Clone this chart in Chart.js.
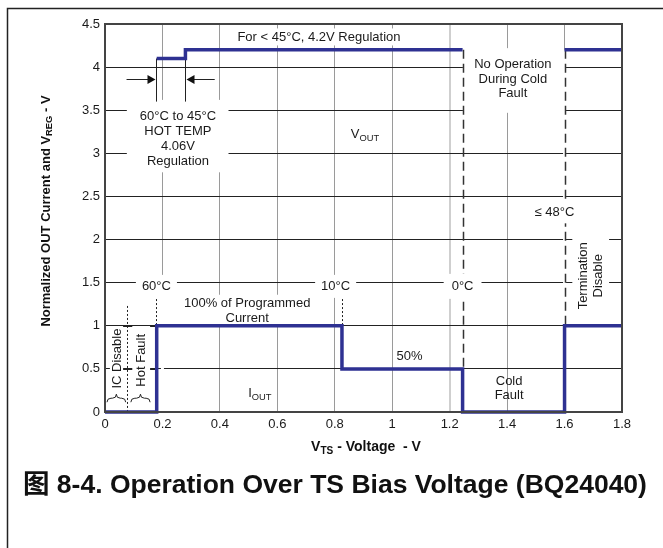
<!DOCTYPE html>
<html>
<head>
<meta charset="utf-8">
<script src="https://cdn.jsdelivr.net/npm/chart.js@4.4.1/dist/chart.umd.min.js"></script>
<style>
  html,body{margin:0;padding:0;background:#fff;}
  canvas{display:block;}
</style>
</head>
<body>
<canvas id="c" width="663" height="548"></canvas>
<script>
// ---- data ----
const xTicks = [0, 0.2, 0.4, 0.6, 0.8, 1.0, 1.2, 1.4, 1.6, 1.8];
const xTickLabels = ["0", "0.2", "0.4", "0.6", "0.8", "1", "1.2", "1.4", "1.6", "1.8"];
const yTicks = [0, 0.5, 1, 1.5, 2, 2.5, 3, 3.5, 4, 4.5];
const yTickLabels = ["0", "0.5", "1", "1.5", "2", "2.5", "3", "3.5", "4", "4.5"];

// I_OUT (normalized current), value held until next breakpoint
const ioutX = [0, 0.18, 0.825, 1.245, 1.6, 1.8];
const ioutY = [0, 1, 0.5, 0, 1, 1];

// V_REG (regulation voltage), null = no operation during cold fault
const vregX = [0.18, 0.28, 1.245, 1.42, 1.6, 1.8];
const vregY = [4.1, 4.2, 4.2, null, 4.2, 4.2];

const FONT = "'Liberation Sans', Arial, Helvetica, sans-serif";
const BLUE = "#2e3192";
const TXT = "#1a1a1a";
const AF = 13; // annotation font size

function richWidth(ctx, parts, size){
  let w = 0;
  for (const p of parts){
    ctx.font = (p.bold?"bold ":"") + (p.sub ? size*0.72 : size) + "px " + FONT;
    w += ctx.measureText(p.t).width;
  }
  return w;
}
function drawRich(ctx, parts, x, y, size, align){
  const w = richWidth(ctx, parts, size);
  let cx = align === "center" ? x - w/2 : (align === "right" ? x - w : x);
  ctx.textAlign = "left";
  ctx.textBaseline = "middle";
  for (const p of parts){
    ctx.font = (p.bold?"bold ":"") + (p.sub ? size*0.72 : size) + "px " + FONT;
    ctx.fillText(p.t, cx, p.sub ? y + size*0.3 : y);
    cx += ctx.measureText(p.t).width;
  }
}

const annot = {
  id: "annot",
  beforeDatasetsDraw(chart){
    const {ctx, scales:{x, y}} = chart;
    const X = v => x.getPixelForValue(v), Y = v => y.getPixelForValue(v);
    ctx.save();
    ctx.fillStyle = "#fff";
    const wbox = (x0, x1, y0, y1) => ctx.fillRect(X(x0), Y(y0), X(x1)-X(x0), Y(y1)-Y(y0));

    // white cover boxes behind annotation texts
    wbox(0.076, 0.43, 3.62, 2.78);     // hot temp regulation
    wbox(1.246, 1.597, 4.22, 3.47);    // no operation
    wbox(1.627, 1.755, 2.15, 1.14);    // termination disable
    wbox(0.017, 0.063, 0.98, 0.24);    // IC disable
    wbox(0.095, 0.157, 0.98, 0.24);    // hot fault
    wbox(0.27, 0.725, 1.36, 1.01);     // 100% programmed
    // hide x=0.2 / x=1.6 grid where not drawn in the reference
    ctx.fillRect(X(0.2)-1.5, Y(1.46), 3, Y(0)-Y(1.46)-1);
    ctx.fillRect(X(1.6)-1.5, Y(4.2), 3, Y(1)-Y(4.2));

    // text label with white background
    const label = (t, vx, vy, size, padx, pady) => {
      ctx.font = size + "px " + FONT;
      const w = ctx.measureText(t).width;
      ctx.fillStyle = "#fff";
      ctx.fillRect(X(vx)-w/2-padx, Y(vy)-size/2-pady, w+2*padx, size+2*pady);
      ctx.fillStyle = TXT;
      ctx.textAlign = "center"; ctx.textBaseline = "middle";
      ctx.fillText(t, X(vx), Y(vy));
    };

    // dashed vertical boundary lines
    ctx.strokeStyle = "#333";
    ctx.lineWidth = 1.5;
    ctx.setLineDash([9, 5]);
    ctx.beginPath();
    ctx.moveTo(Math.round(X(1.245))+0.5, Y(4.2)); ctx.lineTo(Math.round(X(1.245))+0.5, Y(0.5));
    ctx.moveTo(Math.round(X(1.6))+0.5, Y(4.2)); ctx.lineTo(Math.round(X(1.6))+0.5, Y(1));
    ctx.stroke();
    // dotted vertical lines
    ctx.lineWidth = 1;
    ctx.strokeStyle = "#222";
    ctx.setLineDash([2, 2]);
    ctx.beginPath();
    ctx.moveTo(Math.round(X(0.078))+0.5, Y(1.23)); ctx.lineTo(Math.round(X(0.078))+0.5, Y(0));
    ctx.moveTo(Math.round(X(0.178))+0.5, Y(1.31)); ctx.lineTo(Math.round(X(0.178))+0.5, Y(1));
    ctx.moveTo(Math.round(X(0.825))+0.5, Y(1.31)); ctx.lineTo(Math.round(X(0.825))+0.5, Y(1));
    ctx.stroke();
    ctx.setLineDash([]);

    // small tick crossings on the IC-disable dotted line
    ctx.strokeStyle = "#222";
    ctx.beginPath();
    [1, 0.5].forEach(v => {
      ctx.moveTo(X(0.063), Math.round(Y(v))+0.5); ctx.lineTo(X(0.095), Math.round(Y(v))+0.5);
      ctx.moveTo(X(0.157), Math.round(Y(v))+0.5); ctx.lineTo(X(0.178), Math.round(Y(v))+0.5);
    });
    ctx.stroke();

    // temperature labels on 1.5 line
    label("60°C", 0.179, 1.457, AF, 6, 5);
    label("10°C", 0.803, 1.457, AF, 6, 5);
    label("0°C", 1.245, 1.457, AF, 8, 6);
    label("For < 45°C, 4.2V Regulation", 0.745, 4.35, AF, 3, 2);
    label("≤ 48°C", 1.565, 2.31, AF, 2, 4);

    // hot temp arrows
    ctx.strokeStyle = "#222"; ctx.fillStyle = "#111"; ctx.lineWidth = 1;
    const xa = Math.round(X(0.178))+0.5, xb = Math.round(X(0.279))+0.5;
    ctx.beginPath();
    ctx.moveTo(xa, Y(4.1)); ctx.lineTo(xa, Y(3.6));
    ctx.moveTo(xb, Y(4.2)); ctx.lineTo(xb, Y(3.6));
    const ya = Math.round(Y(3.865))+0.5;
    ctx.moveTo(X(0.075), ya); ctx.lineTo(xa-8, ya);
    ctx.moveTo(X(0.382), ya); ctx.lineTo(xb+8, ya);
    ctx.stroke();
    ctx.beginPath();
    ctx.moveTo(xa-1, ya); ctx.lineTo(xa-9, ya-4.5); ctx.lineTo(xa-9, ya+4.5); ctx.closePath();
    ctx.moveTo(xb+1, ya); ctx.lineTo(xb+9, ya-4.5); ctx.lineTo(xb+9, ya+4.5); ctx.closePath();
    ctx.fill();

    // braces
    const brace = (x0, x1, vy) => {
      const a = X(x0), b = X(x1), yy = Y(vy), m = (a+b)/2, h = 4;
      ctx.beginPath();
      ctx.moveTo(a, yy+h);
      ctx.quadraticCurveTo(a, yy, a+h, yy);
      ctx.lineTo(m-h, yy);
      ctx.quadraticCurveTo(m, yy, m, yy-h);
      ctx.quadraticCurveTo(m, yy, m+h, yy);
      ctx.lineTo(b-h, yy);
      ctx.quadraticCurveTo(b, yy, b, yy+h);
      ctx.stroke();
    };
    ctx.strokeStyle = "#222"; ctx.lineWidth = 1;
    brace(0.007, 0.072, 0.16);
    brace(0.09, 0.157, 0.16);

    // multiline texts
    ctx.fillStyle = TXT;
    ctx.textAlign = "center"; ctx.textBaseline = "middle";
    ctx.font = AF + "px " + FONT;
    const lines = (arr, vx, py0, step) => arr.forEach((t, i) => ctx.fillText(t, X(vx), py0 + i*step));
    lines(["60°C to 45°C", "HOT TEMP", "4.06V", "Regulation"], 0.254, Y(3.425), 15);
    lines(["No Operation", "During Cold", "Fault"], 1.42, Y(4.03), 14.5);
    lines(["100% of Programmed", "Current"], 0.495, Y(1.265), 15);
    lines(["Cold", "Fault"], 1.407, Y(0.355), 14.5);
    ctx.fillText("50%", X(1.06), Y(0.645));

    drawRich(ctx, [{t:"V"},{t:"OUT", sub:true}], X(0.905), Y(3.217), AF, "center");
    drawRich(ctx, [{t:"I"},{t:"OUT", sub:true}], X(0.539), Y(0.22), AF, "center");

    // rotated texts
    const rot = (arr, vx, vy, step) => {
      ctx.save();
      ctx.translate(X(vx), Y(vy));
      ctx.rotate(-Math.PI/2);
      ctx.font = AF + "px " + FONT;
      ctx.textAlign = "center"; ctx.textBaseline = "middle";
      arr.forEach((t, i) => ctx.fillText(t, 0, i*step - (arr.length-1)*step/2));
      ctx.restore();
    };
    rot(["Termination", "Disable"], 1.691, 1.58, 15);
    rot(["IC Disable"], 0.043, 0.62, 15);
    rot(["Hot Fault"], 0.127, 0.6, 15);
    ctx.restore();
  },
  afterDatasetsDraw(chart){
    const {ctx, chartArea:a} = chart;
    ctx.save();
    ctx.strokeStyle = "#444";
    ctx.lineWidth = 2;
    ctx.strokeRect(a.left, a.top, a.right - a.left, a.bottom - a.top);
    ctx.restore();
  },
  afterDraw(chart){
    const {ctx} = chart;
    ctx.save();
    // outer frame (top + left)
    ctx.strokeStyle = "#222"; ctx.lineWidth = 1.5;
    ctx.beginPath();
    ctx.moveTo(663, 8.5); ctx.lineTo(7.5, 8.5); ctx.lineTo(7.5, 548);
    ctx.stroke();
    ctx.fillStyle = "#111";
    // y title
    ctx.save();
    ctx.translate(46, 211);
    ctx.rotate(-Math.PI/2);
    drawRich(ctx, [{t:"Normalized OUT Current and V", bold:true},{t:"REG", bold:true, sub:true},{t:" - V", bold:true}], 0, 0, 13, "center");
    ctx.restore();
    // x title
    drawRich(ctx, [{t:"V", bold:true},{t:"TS", bold:true, sub:true},{t:" - Voltage  - V", bold:true}], 366, 447, 14, "center");
    // caption
    ctx.font = "bold 26.5px " + FONT + ", 'Noto Sans CJK SC'";
    ctx.textAlign = "left"; ctx.textBaseline = "alphabetic";
    ctx.fillText("图 8-4. Operation Over TS Bias Voltage (BQ24040)", 23, 493);
    ctx.restore();
  }
};

const tickFont = {family: FONT, size: 13};

new Chart(document.getElementById("c"), {
  type: "line",
  data: {
    datasets: [
      {label: "IOUT", data: ioutX.map((v, i) => ({x: v, y: ioutY[i]})), stepped: "before",
       borderColor: BLUE, borderWidth: 3.5, pointRadius: 0, fill: false, clip: 6},
      {label: "VREG", data: vregX.map((v, i) => ({x: v, y: vregY[i]})), stepped: "before", spanGaps: false,
       borderColor: BLUE, borderWidth: 3.5, pointRadius: 0, fill: false, clip: 6}
    ]
  },
  options: {
    responsive: false, animation: false, devicePixelRatio: 1,
    layout: {padding: {top: 24, right: 41, left: 0, bottom: 0}},
    plugins: {legend: {display: false}, tooltip: {enabled: false}},
    scales: {
      x: {
        type: "linear", min: 0, max: 1.8,
        afterBuildTicks: s => { s.ticks = xTicks.map(v => ({value: v})); },
        afterFit: s => { s.height = 136; },
        ticks: {callback: (v, i) => xTickLabels[i], font: tickFont, color: TXT, padding: 5, maxRotation: 0, autoSkip: false},
        grid: {color: c => (c.tick && Math.abs(c.tick.value - 1.2) < 1e-6) ? "#cfcfcf" : "#9a9a9a",
               lineWidth: c => (c.tick && Math.abs(c.tick.value - 1.2) < 1e-6) ? 2 : 1, drawTicks: false},
        border: {color: "#444", width: 2}
      },
      y: {
        type: "linear", min: 0, max: 4.5,
        afterBuildTicks: s => { s.ticks = yTicks.map(v => ({value: v})); },
        afterFit: s => { s.width = 105; },
        ticks: {callback: (v, i) => yTickLabels[i], font: tickFont, color: TXT, padding: 5, autoSkip: false},
        grid: {color: "#222", lineWidth: 1, drawTicks: false},
        border: {color: "#444", width: 2}
      }
    }
  },
  plugins: [annot]
});
</script>
</body>
</html>
